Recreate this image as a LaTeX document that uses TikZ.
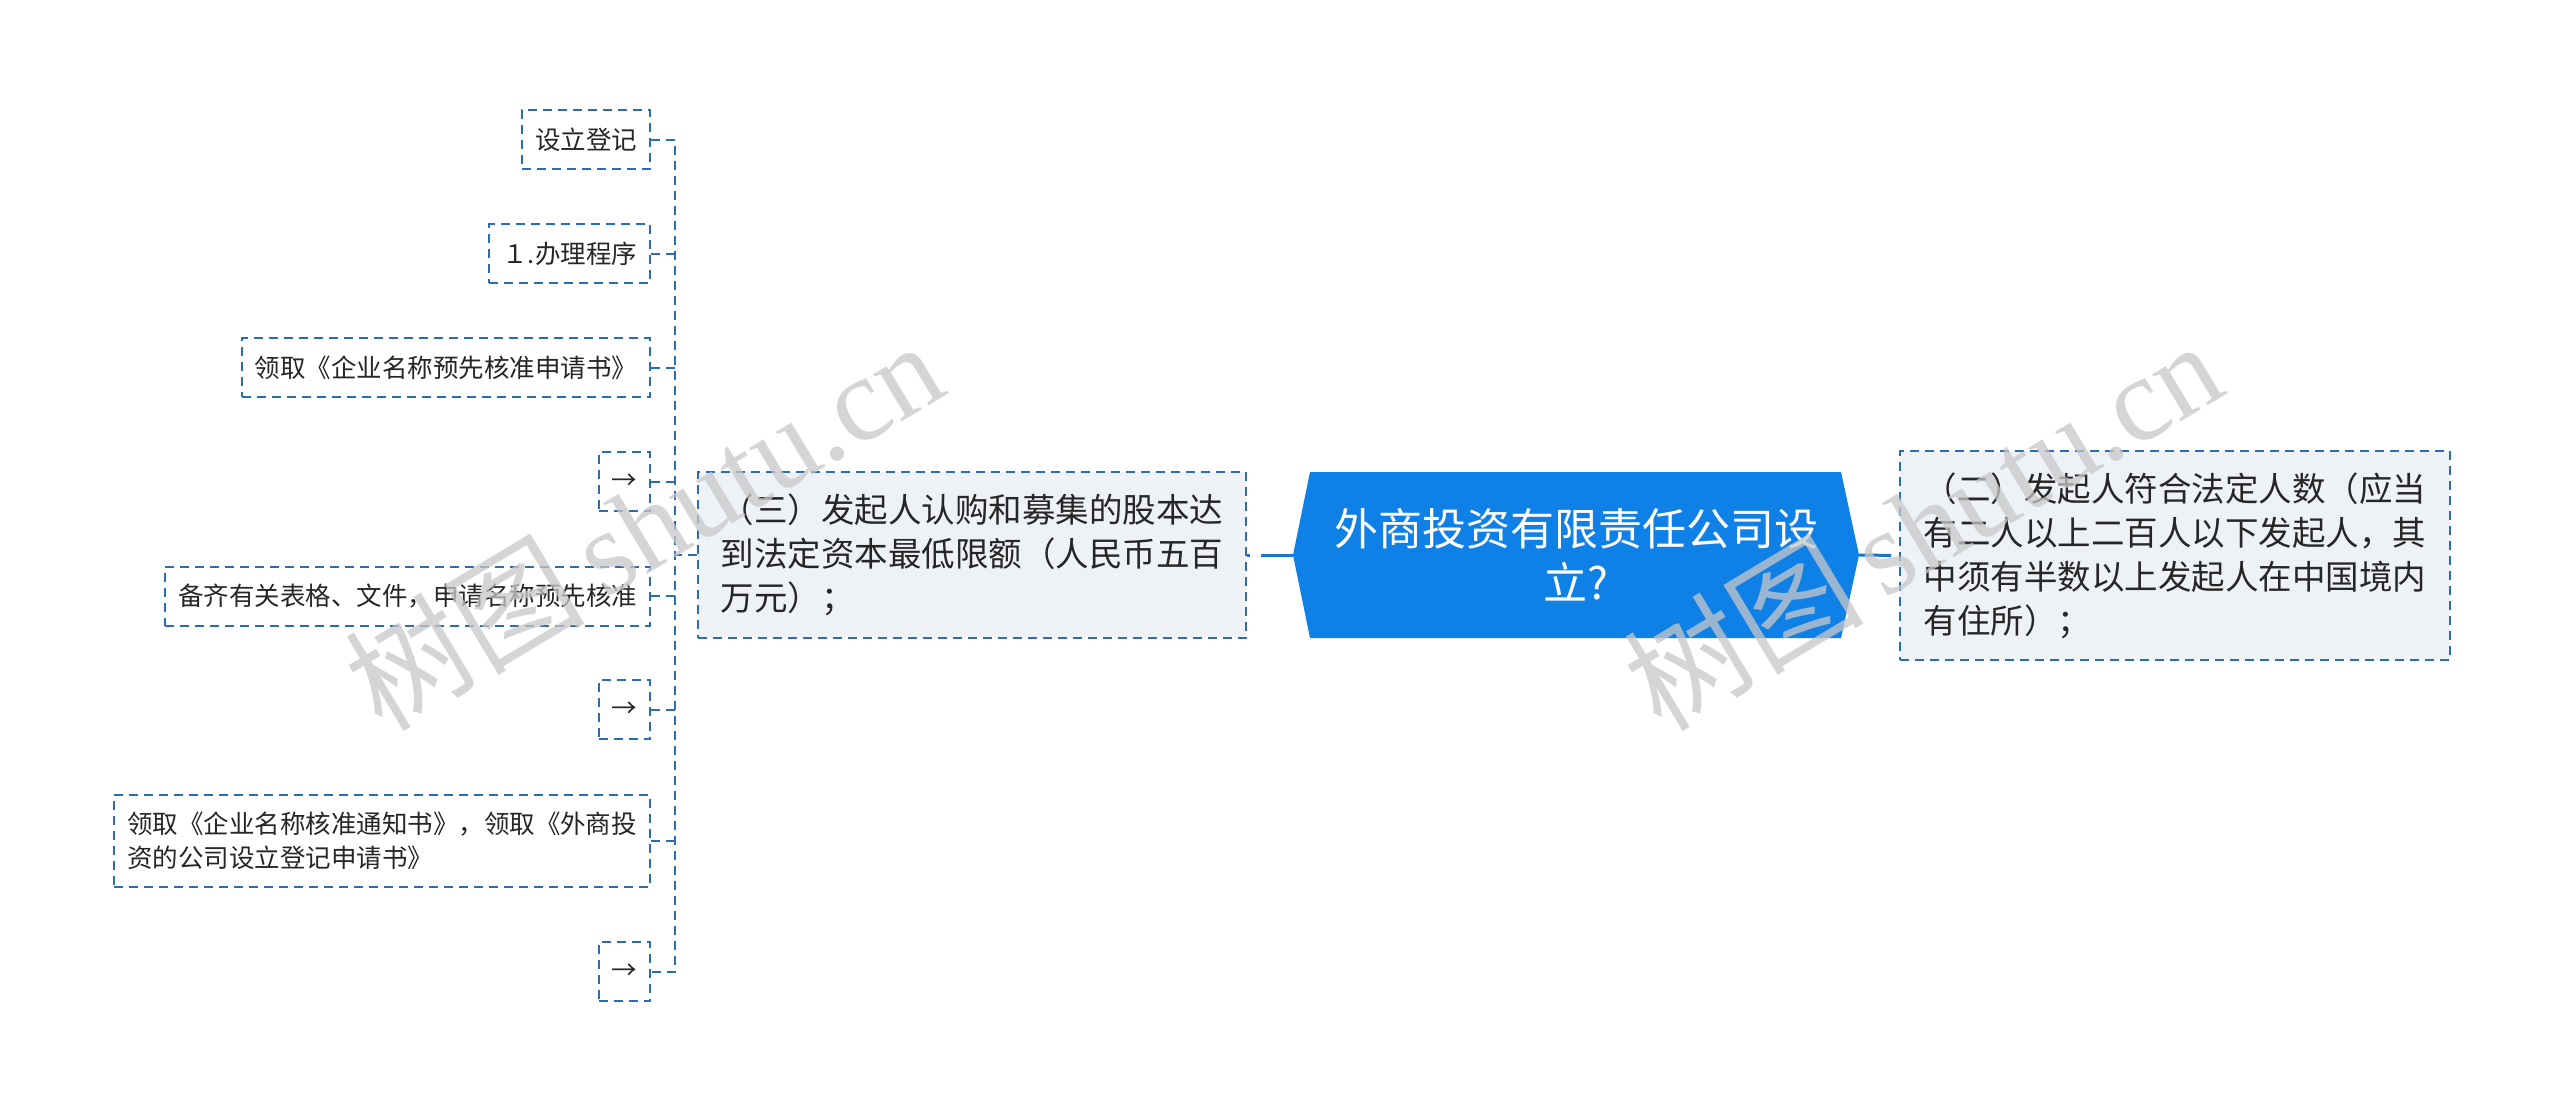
\documentclass[tikz,border=0pt]{standalone}
\usepackage{fontspec}
\setmainfont{Noto Sans CJK SC}
\newfontfamily\wmserif{Liberation Serif}
\usetikzlibrary{calc}
\definecolor{rootblue}{HTML}{0F80E6}
\definecolor{lineblue}{HTML}{2B6DB5}
\definecolor{connblue}{HTML}{1A73D0}
\definecolor{boxfill}{HTML}{EEF1F5}
\definecolor{txt}{HTML}{262626}
\definecolor{wmgray}{HTML}{C8C8C8}
\begin{document}
\begin{tikzpicture}[x=1pt,y=-1pt,
  dashbox/.style={draw=lineblue, line width=2pt, dash pattern=on 9pt off 6pt},
  leaf/.style={dashbox, fill=white, anchor=east, inner xsep=13pt, inner ysep=0pt,
    minimum height=59pt, font=\fontsize{25.5}{34}\selectfont, text=txt, align=left},
  mid/.style={dashbox, fill=boxfill, inner sep=0pt, align=left,
    font=\fontsize{33.5}{44}\selectfont, text=txt},
  conn/.style={lineblue, line width=2pt, dash pattern=on 9pt off 6pt},
  rconn/.style={connblue, line width=3pt, dash pattern=on 32pt off 11pt},
  wm/.style={rotate=31, text=wmgray, opacity=0.75, inner sep=0pt,
    font=\fontsize{120}{120}\selectfont}
]
\useasboundingbox (0,0) rectangle (2560,1111);
\fill[white] (0,0) rectangle (2560,1111);

% leaves
\node[leaf] (l1) at (651,139.5) {设立登记};
\node[leaf] (l2) at (651,253.5) {１.办理程序};
\node[leaf] (l3) at (651,367.5) {领取《企业名称预先核准申请书》};
\node[leaf] (l4) at (651,481.5) {→};
\node[leaf] (l5) at (651,596) {备齐有关表格、文件，申请名称预先核准};
\node[leaf] (l6) at (651,709.5) {→};
\node[leaf, minimum height=92pt] (l7) at (651,841) {领取《企业名称核准通知书》，领取《外商投\\资的公司设立登记申请书》};
\node[leaf] (l8) at (651,971.5) {→};

% middle nodes
\node[mid, minimum width=548pt, minimum height=166pt] (b3) at (972,555)
  {（三）发起人认购和募集的股本达\\到法定资本最低限额（人民币五百\\万元）；};
\node[mid, minimum width=550pt, minimum height=209pt] (b2) at (2175,555.5)
  {（二）发起人符合法定人数（应当\\有二人以上二百人以下发起人，其\\中须有半数以上发起人在中国境内\\有住所）；};

% root
\coordinate (rc) at (1576,555);
\fill[rootblue] ($(rc)+(-266,-83)$) -- ($(rc)+(-283,0)$) -- ($(rc)+(-266,83)$)
  -- ($(rc)+(265,83)$) -- ($(rc)+(283,0)$) -- ($(rc)+(265,-83)$) -- cycle;
\node[minimum width=566pt, minimum height=166pt, inner sep=0pt, align=center,
  text=white, font=\fontsize{44}{54}\selectfont] (root) at (rc)
  {外商投资有限责任公司设\\立?};

% connectors
\coordinate (tk) at (675,555);
\draw[rconn] (root.west) -- (b3.east);
\draw[rconn] (root.east) -- (b2.west);
\draw[conn] (b3.west) -- (tk);
\draw[conn] (l1.east) -- (l1.east -| tk) -- (l8.east -| tk) -- (l8.east);
\foreach \n in {l2,l3,l4,l5,l6,l7}{
  \draw[conn] (\n.east) -- (\n.east -| tk);
}

% watermark
\node[wm] (wm1) at (643,524) {树图\,{\wmserif shutu.cn}};
\node[wm] (wm2) at (1922,524) {树图\,{\wmserif shutu.cn}};
\end{tikzpicture}
\end{document}
